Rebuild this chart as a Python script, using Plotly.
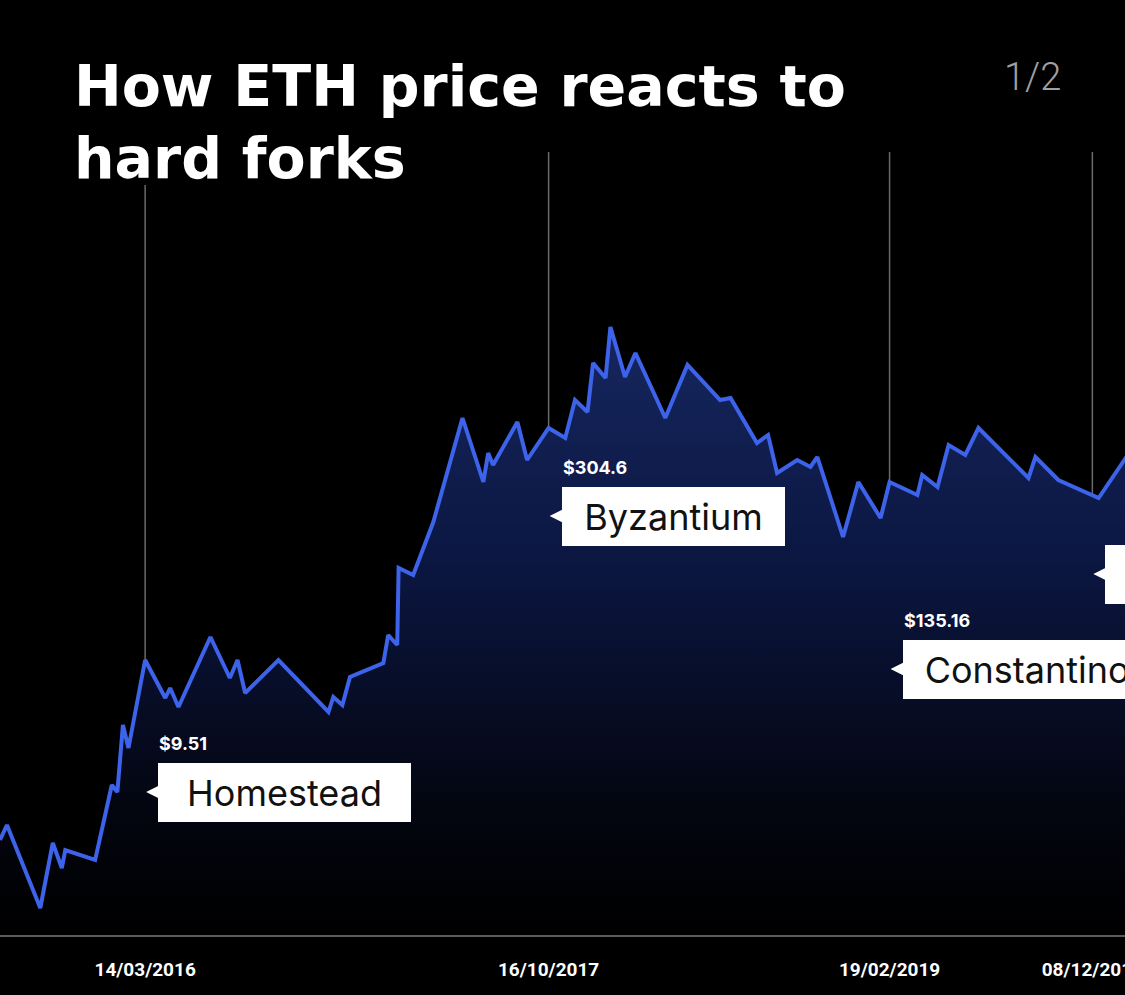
import plotly.graph_objects as go

# Serie del precio de ETH (nivel relativo)
fechas = [
    "2015-08-18", "2015-08-28", "2015-10-15", "2015-11-02", "2015-11-15", "2015-11-20",
    "2016-01-02", "2016-01-26", "2016-02-03", "2016-02-11", "2016-02-19", "2016-03-14",
    "2016-04-12", "2016-04-19", "2016-05-01", "2016-06-16", "2016-07-14", "2016-07-25",
    "2016-08-05", "2016-09-22", "2016-12-03", "2016-12-10", "2016-12-23", "2017-01-03",
    "2017-02-20", "2017-02-27", "2017-03-12", "2017-03-14", "2017-04-04", "2017-05-03",
    "2017-06-14", "2017-07-14", "2017-07-21", "2017-07-28", "2017-09-01", "2017-09-15",
    "2017-10-16", "2017-11-09", "2017-11-23", "2017-12-11", "2017-12-19", "2018-01-06",
    "2018-01-13", "2018-02-03", "2018-02-18", "2018-04-02", "2018-05-04", "2018-06-20",
    "2018-07-05", "2018-08-12", "2018-08-28", "2018-09-10", "2018-10-09", "2018-10-28",
    "2018-11-07", "2018-12-14", "2019-01-05", "2019-02-06", "2019-02-19", "2019-03-31",
    "2019-04-07", "2019-04-29", "2019-05-15", "2019-06-08", "2019-06-27", "2019-09-07",
    "2019-09-17", "2019-10-20", "2019-12-17", "2020-01-24", "2020-03-01",
]
nivel_eth = [
    95, 110, 27, 92, 67, 85,
    75, 150, 143, 210, 187, 275,
    237, 247, 228, 298, 257, 275,
    242, 275, 223, 238, 230, 258,
    272, 300, 290, 367, 360, 413,
    517, 453, 482, 470, 513, 475,
    507, 497, 535, 523, 572, 557,
    608, 558, 582, 517, 570, 535,
    537, 492, 500, 462, 475, 468,
    478, 398, 453, 417, 453, 440,
    460, 448, 490, 480, 507, 457,
    478, 455, 437, 477, 514,
]

# Hard forks
forks = ["Homestead", "Byzantium", "Constantinople", "Istanbul"]
fechas_fork = ["2016-03-14", "2017-10-16", "2019-02-19", "2019-12-08"]
precios_fork = ["$9.51", "$304.6", "$135.16", ""]
etiquetas_x = ["14/03/2016", "16/10/2017", "19/02/2019", "08/12/2019"]

# Posición de las cajas (estilo, no datos)
nivel_caja = [143, 419, 266, 361]
ancho_caja = [253, 223, 300, 190]
tope_linea = [750, 783, 783, 783]

AZUL = "#3d63ea"

fig = go.Figure()

fig.add_trace(go.Scatter(
    x=fechas,
    y=nivel_eth,
    mode="lines",
    line=dict(color=AZUL, width=4),
    fill="tozeroy",
    fillgradient=dict(
        type="vertical",
        start=0,
        stop=610,
        colorscale=[[0, "#000000"], [0.2, "#03050f"], [0.6, "#0b1640"], [1, "#16275f"]],
    ),
    hoverinfo="skip",
    showlegend=False,
))

# Líneas verticales de cada fork
for f, tope in zip(fechas_fork, tope_linea):
    fig.add_shape(type="line", xref="x", yref="y", x0=f, x1=f, y0=0, y1=tope,
                  line=dict(color="#6a6a6a", width=1.5), layer="below")

for i, nombre in enumerate(forks):
    w = ancho_caja[i]
    # Caja blanca
    fig.add_annotation(
        x=fechas_fork[i], y=nivel_caja[i], xref="x", yref="y",
        text=nombre, showarrow=False, xanchor="left", yanchor="middle", xshift=13,
        bgcolor="white", borderpad=0, borderwidth=0, width=w, height=59,
        align="center", font=dict(family="Inter", size=36, color="#111111"),
    )
    # Puntero hacia la línea del fork
    fig.add_annotation(
        x=fechas_fork[i], y=nivel_caja[i], xref="x", yref="y",
        text=" ", showarrow=True, ax=15, ay=0,
        arrowhead=2, arrowsize=2.6, arrowwidth=1, arrowcolor="white", standoff=1,
        font=dict(size=4),
    )
    if precios_fork[i]:
        fig.add_annotation(
            x=fechas_fork[i], y=nivel_caja[i] + 49, xref="x", yref="y",
            text=precios_fork[i], showarrow=False, xanchor="left", xshift=12,
            font=dict(family="Inter", size=18, color="white", weight=700),
        )

# Título en dos líneas
for texto, yp in [("How ETH price reacts to", 1.082), ("hard forks", 0.99)]:
    fig.add_annotation(
        x=72 / 1125, y=yp, xref="paper", yref="paper", text=texto, showarrow=False,
        xanchor="left", yanchor="middle",
        font=dict(family="DejaVu Sans", size=57, color="white", weight=700),
    )

fig.add_annotation(
    x=1032 / 1125, y=1.093, xref="paper", yref="paper", text="1/2", showarrow=False,
    xanchor="center", yanchor="middle",
    font=dict(family="Roboto", size=38, color="#a0a0a0", weight=300),
)

fig.update_layout(
    template="none",
    width=1125,
    height=995,
    margin=dict(l=0, r=0, t=150, b=60),
    paper_bgcolor="black",
    plot_bgcolor="black",
    xaxis=dict(
        type="date",
        range=["2015-08-18", "2020-01-24"],
        tickvals=fechas_fork,
        ticktext=etiquetas_x,
        ticklabeloverflow="allow",
        ticks="outside", ticklen=16, tickcolor="rgba(0,0,0,0)",
        tickfont=dict(family="Roboto", size=19, color="white", weight=700),
        showgrid=False, zeroline=False,
        showline=True, linecolor="#5a5a5a", linewidth=2,
        automargin=False,
    ),
    yaxis=dict(range=[0, 785], visible=False, showgrid=False, zeroline=False, automargin=False),
)

# Sin margen de página para que el gráfico ocupe toda la ventana
fig.write_html(
    "out.html",
    config={"displayModeBar": False},
    post_script="document.body.style.margin='0';document.body.style.background='black';",
)
